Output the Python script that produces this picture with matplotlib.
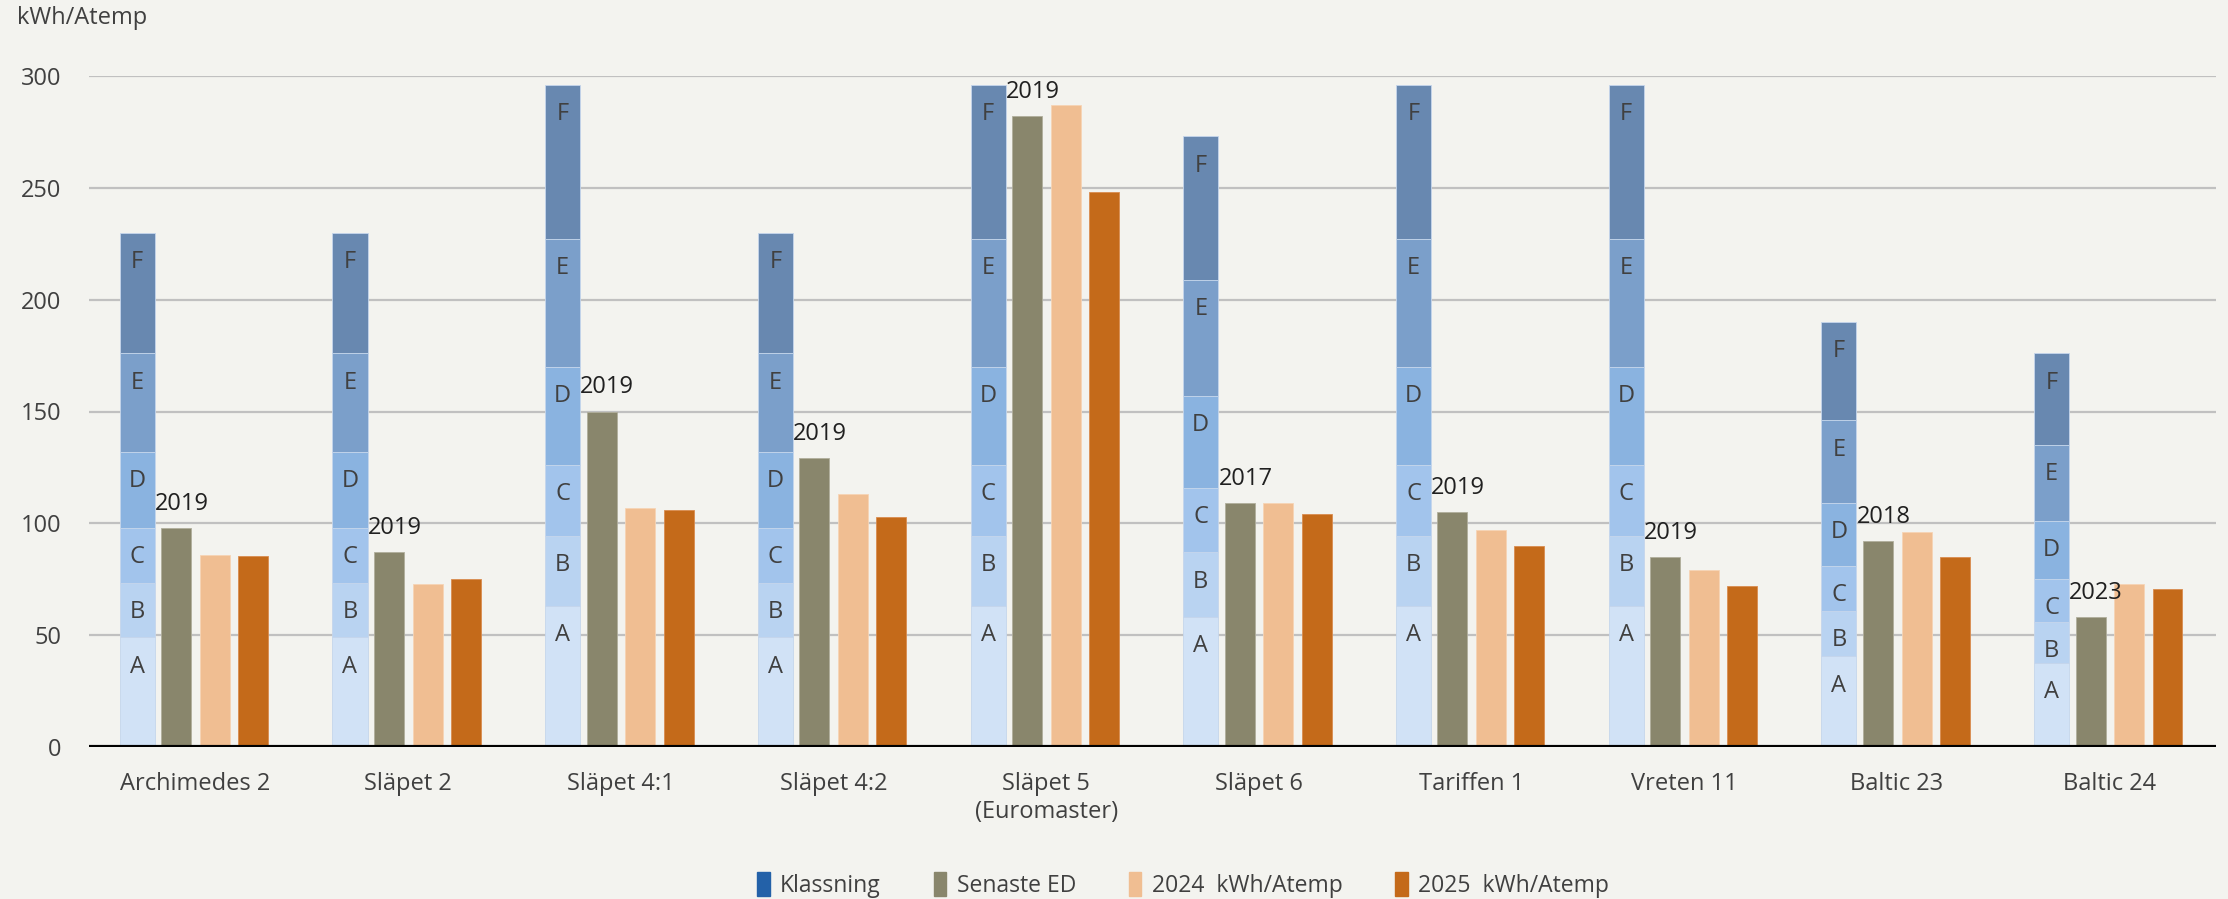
import numpy as np
import matplotlib
matplotlib.use("Agg")
import matplotlib.pyplot as plt
from matplotlib.patches import Patch

plt.rcParams["font.family"] = ["Open Sans", "DejaVu Sans"]
plt.rcParams["font.size"] = 17

categories = ["Archimedes 2", "Släpet 2", "Släpet 4:1", "Släpet 4:2", "Släpet 5\n(Euromaster)",
              "Släpet 6", "Tariffen 1", "Vreten 11", "Baltic 23", "Baltic 24"]

# Energy class upper limits (kWh/Atemp) per building
class_names = ["A", "B", "C", "D", "E", "F"]
lim_a = [49, 49, 63, 49, 63, 58, 63, 63, 40.5, 37.5]
lim_b = [73.5, 73.5, 94.5, 73.5, 94.5, 87, 94.5, 94.5, 61, 56]
lim_c = [98, 98, 126, 98, 126, 116, 126, 126, 81, 75]
lim_d = [132, 132, 170, 132, 170, 157, 170, 170, 109, 101]
lim_e = [176, 176, 227, 176, 227, 209, 227, 227, 146, 135]
lim_f = [230, 230, 296, 230, 296, 273, 296, 296, 190, 176]

senaste_ed = [98, 87, 150, 129, 282, 109, 105, 85, 92, 58]
ed_year = ["2019", "2019", "2019", "2019", "2019", "2017", "2019", "2019", "2018", "2023"]
kwh_2024 = [86, 73, 107, 113, 287, 109, 97, 79, 96, 73]
kwh_2025 = [85.5, 75, 106, 103, 248, 104, 90, 72, 85, 70.5]

class_colors = ["#D1E2F6", "#B9D3F1", "#A2C4EC", "#8AB3E0", "#7B9FCA", "#6888B0"]
col_ed = "#89866C"
col_2024 = "#F0BE92"
col_2025 = "#C46A1A"
col_klass = "#2361A8"
bg = "#F3F3EF"
txt = "#404040"

fig = plt.figure(figsize=(22.28, 8.99), dpi=100, facecolor=bg)
ax = fig.add_axes([89 / 2228, 1 - 747 / 899, (2216 - 89) / 2228, (747 - 76) / 899])
ax.set_facecolor(bg)

x = np.arange(len(categories)) + 0.5
w_k = 0.165
w = 0.141

limits = np.array([lim_a, lim_b, lim_c, lim_d, lim_e, lim_f])
bottom = np.zeros(len(categories))
for i, name in enumerate(class_names):
    height = limits[i] - bottom
    ax.bar(x - 0.273, height, w_k, bottom=bottom, color=class_colors[i],
           edgecolor="#C5D6EC", linewidth=0.6, zorder=3)
    for xi, top in zip(x - 0.273, limits[i]):
        ax.annotate(name, (xi, top), xytext=(0, -21), textcoords="offset points",
                    ha="center", va="center", fontsize=17, color=txt, zorder=4)
    bottom = limits[i]

ax.bar(x - 0.090, senaste_ed, w, color=col_ed, edgecolor="#B0AE9C", linewidth=0.6, zorder=3)
ax.bar(x + 0.092, kwh_2024, w, color=col_2024, edgecolor="#F6D4B5", linewidth=0.6, zorder=3)
ax.bar(x + 0.272, kwh_2025, w, color=col_2025, edgecolor="#D98C4F", linewidth=0.6, zorder=3)

for xi, val, yr in zip(x, senaste_ed, ed_year):
    ax.annotate(yr, (xi - 0.19, val), xytext=(0, 13), textcoords="offset points",
                ha="left", va="baseline", fontsize=17, color="#202020", zorder=5)

ax.set_xlim(0, len(categories))
ax.set_ylim(0, 300)
ax.set_yticks(np.arange(0, 301, 50))
ax.set_xticks(x)
ax.set_xticklabels(categories, color=txt)
ax.tick_params(axis="both", length=0, labelsize=17, colors=txt)
ax.tick_params(axis="y", pad=20)
ax.tick_params(axis="x", pad=18)
ax.grid(axis="y", color="#C0C0C0", linewidth=1.6, zorder=0)
for s in ax.spines.values():
    s.set_visible(False)
ax.axhline(0, color="black", linewidth=3, zorder=6)

fig.text(17 / 2228, 1 - 6 / 899, "kWh/Atemp", ha="left", va="top", fontsize=17, color=txt)

handles = [Patch(color=col_klass), Patch(color=col_ed), Patch(color=col_2024), Patch(color=col_2025)]
labels = ["Klassning", "Senaste ED", "2024  kWh/Atemp", "2025  kWh/Atemp"]
fig.legend(handles, labels, loc="center", bbox_to_anchor=(1183 / 2228, 1 - 885 / 899), ncol=4,
           frameon=False, fontsize=16.5, handlelength=0.55, handleheight=1.2, handletextpad=0.45,
           columnspacing=2.3, labelcolor=txt)

fig.savefig("out.png", dpi=100, facecolor=bg)
